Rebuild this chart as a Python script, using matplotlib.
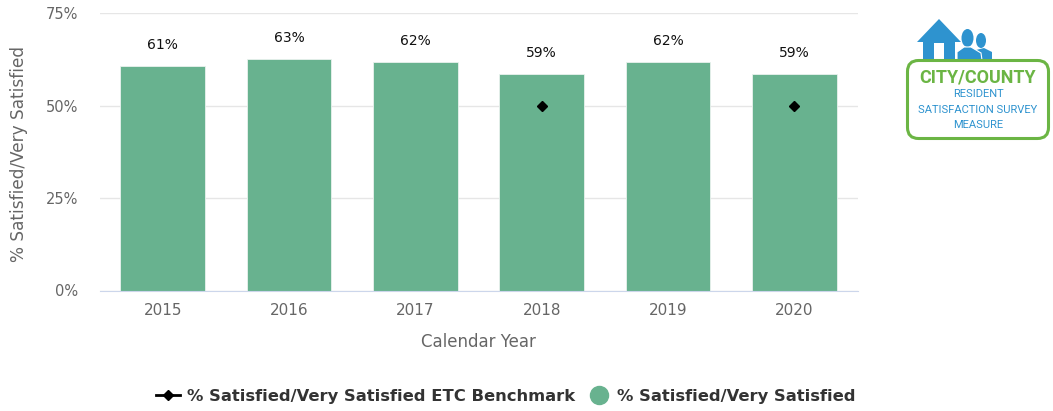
import matplotlib
matplotlib.use("Agg")
import matplotlib.pyplot as plt
from matplotlib.lines import Line2D
from matplotlib.patches import Ellipse, FancyBboxPatch, Polygon, Rectangle

years = ["2015", "2016", "2017", "2018", "2019", "2020"]
satisfied = [60.6, 62.6, 61.8, 58.6, 61.8, 58.6]
benchmark = [None, None, None, 50, None, 50]
y_ticks = [0, 25, 50, 75]

BAR = "#68b28f"
GREY = "#666666"
LOGO_GREEN = "#6bb544"
LOGO_BLUE = "#2e93cf"

W, H = 1053, 411
fig = plt.figure(figsize=(W / 100, H / 100), dpi=100)
plt.rcParams["font.family"] = "DejaVu Sans"


def box(left, top, right, bottom):
    return [left / W, 1 - bottom / H, (right - left) / W, (bottom - top) / H]


ax = fig.add_axes(box(99.5, 13, 857.5, 290.5))
x = list(range(len(years)))
ax.bar(x, satisfied, width=0.67, color=BAR, edgecolor="#e9f2ee", linewidth=0.6, zorder=2)

for i, v in enumerate(satisfied):
    ax.annotate(f"{v:.0f}%", (i, v), xytext=(0, 10), textcoords="offset points",
                ha="center", va="bottom", fontsize=10, color="#111111")

for i, v in enumerate(benchmark):
    if v is not None:
        ax.plot(i, v, marker="D", ms=5, color="black", ls="none", zorder=3)

ax.set_xlim(-0.5, len(years) - 0.5)
ax.set_ylim(0, 75)
ax.set_xticks(x, years)
ax.set_yticks(y_ticks, [f"{t}%" for t in y_ticks])
ax.tick_params(axis="x", length=0, pad=9, labelsize=11, labelcolor=GREY)
ax.tick_params(axis="y", length=0, pad=15.5, labelsize=10.5, labelcolor=GREY)
ax.grid(axis="y", color="#e6e6e6", linewidth=1, zorder=0)
for side in ["top", "left", "right"]:
    ax.spines[side].set_visible(False)
ax.spines["bottom"].set_color("#ccd6eb")
ax.set_xlabel("Calendar Year", fontsize=12, color=GREY, labelpad=11)
ax.set_ylabel("% Satisfied/Very Satisfied", fontsize=12.2, color=GREY)
ax.yaxis.set_label_coords((28 - 99.5) / 758, (290.5 - 153.5) / 277.5)

handles = [
    Line2D([], [], color="black", marker="D", ms=5, lw=2),
    Line2D([], [], color=BAR, marker="o", ms=13, ls="none"),
]
labels = ["% Satisfied/Very Satisfied ETC Benchmark", "% Satisfied/Very Satisfied"]
fig.legend(handles, labels, ncol=2, frameon=False, loc="center", bbox_to_anchor=(506 / W, 1 - 396 / H),
           prop={"weight": "bold", "size": 11.8}, labelcolor="#333333", handlelength=1.45,
           handletextpad=0.42, columnspacing=0.72)

# logo, in pixel coordinates
logo = fig.add_axes([0, 0, 1, 1], zorder=-1)
logo.set_xlim(0, W)
logo.set_ylim(H, 0)
logo.axis("off")
logo.add_patch(Polygon([(939, 19), (917, 42), (923, 42), (923, 60), (955, 60), (955, 42), (961, 42)],
                       color=LOGO_BLUE, lw=0))
logo.add_patch(Rectangle((934, 43), 10, 17, color="white", lw=0))
logo.add_patch(Ellipse((981, 40.5), 10, 15, color=LOGO_BLUE, lw=0))
logo.add_patch(Polygon([(976, 60), (976, 50), (984, 48), (992, 52), (992, 60)], color=LOGO_BLUE, lw=0))
logo.add_patch(Ellipse((967.5, 38), 12, 18, color=LOGO_BLUE, lw=0))
logo.add_patch(Polygon([(957, 60), (957, 52), (964, 47), (971, 47), (981, 53), (982, 60)],
                       fc=LOGO_BLUE, ec="white", lw=0.8))
logo.add_patch(FancyBboxPatch((907.5, 60.5), 141, 78, boxstyle="round,pad=0,rounding_size=11",
                              fc="white", ec=LOGO_GREEN, lw=2.2))
narrow = ["Liberation Sans Narrow", "Roboto", "DejaVu Sans"]
logo.text(978, 77, "CITY/COUNTY", ha="center", va="center", fontsize=13, fontweight="bold",
          color=LOGO_GREEN, family=["Roboto", "DejaVu Sans"])
logo.text(978, 94, "RESIDENT", ha="center", va="center", fontsize=8, color=LOGO_BLUE, family=narrow)
logo.text(978, 110, "SATISFACTION SURVEY", ha="center", va="center", fontsize=8, color=LOGO_BLUE, family=narrow)
logo.text(978, 125, "MEASURE", ha="center", va="center", fontsize=8, color=LOGO_BLUE, family=narrow)

plt.savefig("out.png", dpi=100)
plt.close()
